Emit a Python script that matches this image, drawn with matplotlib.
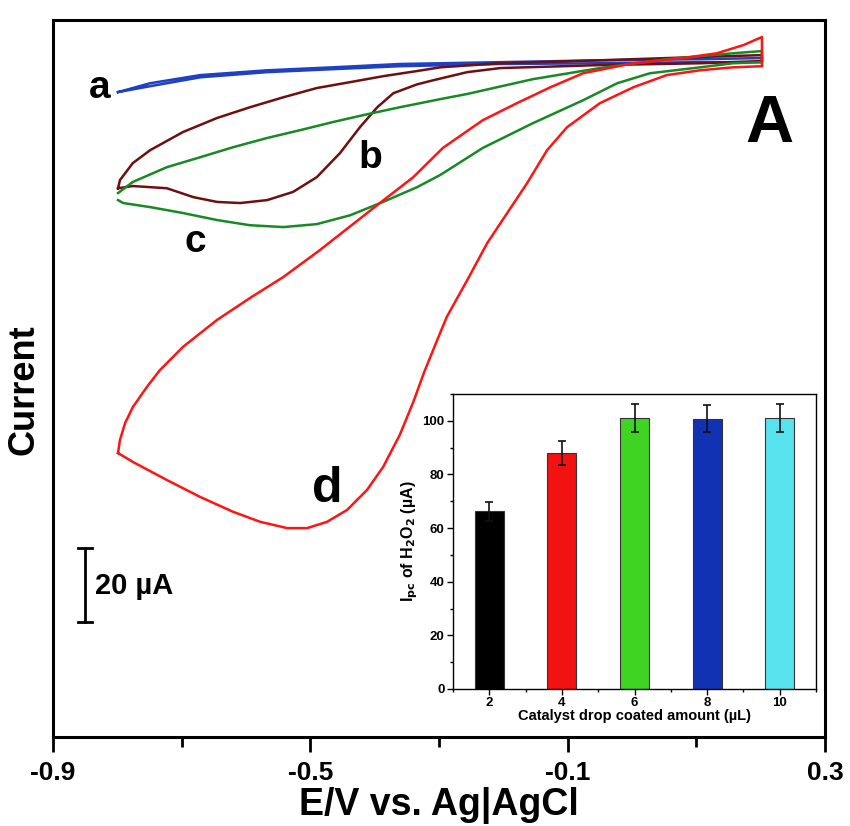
import matplotlib
matplotlib.use('Agg')
import matplotlib.pyplot as plt
from matplotlib.ticker import MultipleLocator

plt.rcParams['font.family'] = ['Liberation Sans Narrow', 'Liberation Sans', 'DejaVu Sans']
plt.rcParams['font.weight'] = 'bold'

# CV curves: potential (V vs Ag|AgCl) and current (uA)
a_E = [-0.799, -0.749, -0.671, -0.567, -0.465, -0.361, -0.205, -0.050, 0.106, 0.202,
       0.202, 0.106, -0.050, -0.205, -0.361, -0.465, -0.567, -0.671, -0.749, -0.799]
a_I = [-8.1, -5.7, -3.5, -2.2, -1.4, -0.5, 0.0, 0.5, 0.8, 1.1,
       0.0, 0.0, -0.3, -0.5, -1.1, -1.9, -2.7, -4.1, -6.5, -8.1]

b_E = [-0.799, -0.796, -0.776, -0.749, -0.698, -0.645, -0.594, -0.542, -0.490, -0.438, -0.387,
       -0.334, -0.298, -0.205, -0.050, 0.106, 0.202,
       0.202, 0.106, -0.050, -0.205, -0.256, -0.309, -0.334, -0.371, -0.396, -0.423, -0.454,
       -0.490, -0.527, -0.567, -0.609, -0.645, -0.682, -0.723, -0.776, -0.799]
b_I = [-34.1, -31.9, -27.3, -23.8, -18.9, -15.1, -12.2, -9.5, -7.0, -5.4, -3.8,
       -2.4, -1.4, -0.3, 0.5, 1.4, 1.9,
       0.3, -0.3, -0.8, -1.6, -2.7, -4.9, -6.0, -8.4, -12.2, -17.6, -24.6,
       -31.1, -35.1, -37.3, -38.1, -37.8, -36.5, -34.1, -33.5, -34.1]

c_E = [-0.799, -0.776, -0.723, -0.671, -0.620, -0.567, -0.516, -0.465, -0.412, -0.361, -0.298,
       -0.256, -0.154, -0.050, 0.054, 0.157, 0.202,
       0.202, 0.157, 0.106, 0.028, -0.023, -0.076, -0.154, -0.232, -0.298, -0.334, -0.387,
       -0.438, -0.490, -0.542, -0.594, -0.645, -0.698, -0.749, -0.791, -0.799]
c_I = [-35.4, -32.4, -28.4, -25.7, -23.0, -20.5, -18.4, -16.2, -14.1, -12.2, -10.0,
       -8.6, -4.6, -1.6, 0.8, 2.4, 3.0,
       0.0, -0.3, -1.4, -3.0, -5.7, -10.3, -16.5, -23.2, -30.5, -33.8, -37.8,
       -41.4, -43.8, -44.6, -44.1, -42.7, -40.8, -39.2, -38.1, -37.3]

d_E = [-0.799, -0.796, -0.788, -0.776, -0.754, -0.734, -0.698, -0.645, -0.594, -0.542, -0.485,
       -0.392, -0.340, -0.294, -0.232, -0.179, -0.127, -0.076, 0.002, 0.079, 0.132, 0.173, 0.202,
       0.202, 0.157, 0.106, 0.054, 0.002, -0.050, -0.101, -0.132, -0.163, -0.194, -0.225,
       -0.256, -0.288, -0.306, -0.323, -0.340, -0.361, -0.387, -0.412, -0.443, -0.474,
       -0.505, -0.536, -0.578, -0.620, -0.671, -0.723, -0.776, -0.799]
d_I = [-105.7, -102.2, -97.6, -93.3, -87.8, -83.3, -77.0, -69.7, -63.8, -58.1, -50.8,
       -38.1, -31.1, -23.2, -15.7, -11.1, -6.8, -3.0, -0.3, 1.1, 2.4, 4.6, 6.8,
       -1.1, -1.4, -2.2, -3.5, -6.8, -11.1, -17.6, -23.8, -32.7, -40.8, -48.9,
       -58.9, -68.9, -76.5, -83.8, -91.9, -100.8, -109.5, -115.7, -121.1, -124.3,
       -126.0, -126.0, -124.3, -121.6, -117.6, -113.0, -108.1, -105.7]

# inset bar chart
amounts = [2, 4, 6, 8, 10]
ipc = [66.3, 88.0, 101.1, 100.8, 100.9]
ipc_err = [3.5, 4.6, 5.2, 5.0, 5.2]
bar_colors = ['#000000', '#f21212', '#40d422', '#1232b4', '#58e2ee']

fig = plt.figure(figsize=(8.5, 8.26), dpi=100)
ax = fig.add_axes([0.0624, 0.1077, 0.9082, 0.8681])

line_kw = dict(lw=1.8, solid_joinstyle='round')
ax.plot(a_E, a_I, color='#1f3fc4', **line_kw)
ax.plot(b_E, b_I, color='#6e1010', **line_kw)
ax.plot(c_E, c_I, color='#178a25', **line_kw)
ax.plot(d_E, d_I, color='#ff1414', **line_kw)

ax.set_xlim(-0.9, 0.3)
ax.set_ylim(-182.5, 11.4)
ax.set_xticks([-0.9, -0.5, -0.1, 0.3])
ax.set_xticklabels(['-0.9', '-0.5', '-0.1', '0.3'])
ax.set_xticks([-0.7, -0.3, 0.1], minor=True)
ax.tick_params(axis='x', which='major', direction='out', length=11, width=2, labelsize=19, pad=6)
ax.tick_params(axis='x', which='minor', direction='out', length=7, width=2)
ax.set_yticks([])
for s in ax.spines.values():
    s.set_linewidth(2.2)

ax.set_xlabel('E/V vs. Ag|AgCl', fontsize=27, fontweight='bold', labelpad=2)
ax.set_ylabel('Current', fontsize=26, fontweight='bold')
ax.yaxis.set_label_coords(-0.015, 0.484)

# curve letters
ax.text(-0.828, -7.0, 'a', fontsize=28, fontweight='bold', ha='center', va='center')
ax.text(-0.407, -26.0, 'b', fontsize=28, fontweight='bold', ha='center', va='center')
ax.text(-0.679, -48.5, 'c', fontsize=28, fontweight='bold', ha='center', va='center')
ax.text(-0.474, -115.5, 'd', fontsize=36, fontweight='bold', ha='center', va='center')
ax.text(0.214, -17.0, 'A', fontsize=48, fontweight='bold', ha='center', va='center')

# 20 uA scale bar
ax.plot([-0.850, -0.850], [-131.4, -151.4], color='black', lw=2)
ax.plot([-0.861, -0.839], [-131.4, -131.4], color='black', lw=2)
ax.plot([-0.861, -0.839], [-151.4, -151.4], color='black', lw=2)
ax.text(-0.835, -141.6, '20 µA', fontsize=21, fontweight='bold', ha='left', va='center')

# inset
ins = fig.add_axes([0.533, 0.1659, 0.427, 0.3571])
ins.bar(amounts, ipc, width=0.8, color=bar_colors, edgecolor='#333333', linewidth=0.8,
        yerr=ipc_err, capsize=3, error_kw=dict(ecolor='#111111', elinewidth=1.2, capthick=1.2))
ins.set_xlim(1, 11)
ins.set_ylim(0, 110)
ins.set_xticks(amounts)
ins.xaxis.set_minor_locator(MultipleLocator(1))
ins.yaxis.set_major_locator(MultipleLocator(20))
ins.yaxis.set_minor_locator(MultipleLocator(10))
ins.tick_params(which='major', direction='out', length=4, width=1, labelsize=9.5, pad=2)
ins.tick_params(which='minor', direction='out', length=2, width=1)
for s in ins.spines.values():
    s.set_linewidth(1)
ins.set_xlabel('Catalyst drop coated amount (µL)', fontsize=10.5, fontweight='bold', labelpad=0)
ins.set_ylabel(r'I$_{\mathbf{pc}}$ of H$_{\mathbf{2}}$O$_{\mathbf{2}}$ (µA)', fontsize=11.5,
               fontweight='bold', labelpad=2)

fig.savefig('out.png', dpi=100)
